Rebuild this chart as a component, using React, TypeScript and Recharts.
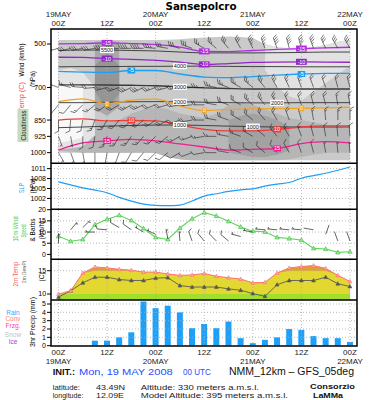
import React from "react";
import { ComposedChart, Line, Area, Bar, XAxis, YAxis, ReferenceLine } from "recharts";

// ---------- time axis ----------
const hours = [0, 3, 6, 9, 12, 15, 18, 21, 24, 27, 30, 33, 36, 39, 42, 45, 48, 51, 54, 57, 60, 63, 66, 69, 72];
const timeTicks = [0, 12, 24, 36, 48, 60, 72];
const hourLabels = ["00Z", "12Z", "00Z", "12Z", "00Z", "12Z", "00Z"];
const dateLabels = ["19MAY", "", "20MAY", "", "21MAY", "", "22MAY"];

// ---------- upper-air panel (pressure, hPa) ----------
const pressureTicks = [500, 700, 850, 925, 1000];
// isotherms, every 6 h
const isoM15 = [499, 498, 495, 498, 503, 514, 534, 535, 530, 525, 521, 518, 515];
const isoM10 = [561, 562, 567, 571, 575, 583, 594, 590, 585, 583, 582, 583, 584];
const isoM5 = [626, 629, 631, 622, 622, 638, 652, 655, 650, 643, 638, 635, 635];
const iso0 = [765, 753, 776, 758, 754, 785, 806, 801, 799, 797, 796, 794, 791];
const iso10 = [850, 845, 854, 852, 854, 873, 893, 900, 900, 893, 882, 877, 877];
const iso15 = [988, 955, 946, 939, 946, 960, 974, 988, 985, 981, 958, 949, 955];
// geopotential height lines, every 6 h
const h5500 = [530, 528, 528, 530, 532, 537, 541, 541, 541, 540, 539, 537, 537];
const h4000 = [605, 604, 604, 603, 603, 602, 602, 603, 604, 604, 605, 605, 605];
const h3000 = [688, 688, 689, 690, 692, 697, 702, 705, 707, 707, 707, 707, 707];
const h2000 = [770, 770, 768, 766, 765, 766, 768, 770, 771, 771, 770, 770, 770];
const h1000 = [885, 882, 878, 875, 873, 873, 875, 878, 880, 882, 882, 882, 882];

// cloudiness shading [top hPa, bottom hPa], every 3 h
const N = null;
const cloudBase = [[482, 1000], [482, 1000], [482, 1000], [482, 1000], [482, 1000], [482, 1000], [482, 1000], [482, 1000], [482, 1002], [480, 1020], [478, 1032], [474, 1035], [470, 1035], [468, 1035], [466, 1035], [468, 1035], [472, 1035], [500, 1035], [515, 1035], [520, 1035], [520, 1035], [515, 1035], [505, 1035], [490, 1035], [480, 1035]];
const cloudDarkLow = [[900, 990], [880, 995], [860, 1000], [850, 1000], [860, 1000], [850, 1000], [820, 1000], [800, 1000], [790, 1002], [800, 1020], [820, 1030], [830, 1035], [840, 1035], [820, 1035], [780, 1035], [770, 1035], [780, 1035], [800, 1035], [820, 1035], [840, 1030], [850, 1020], [860, 1010], [870, 1000], [880, 1000], [890, 1000]];
const cloudLightLeft = [[620, 985], [610, 980], [630, 970], [700, 920], N, N, N, N, N, N, N, N, N, N, N, N, N, N, N, N, N, N, N, N, N];
const cloudWhiteLeft = [[690, 955], [680, 945], [700, 930], N, N, N, N, N, N, N, N, N, N, N, N, N, N, N, N, N, N, N, N, N, N];
const cloudLightTopRight = [N, N, N, N, N, N, N, N, N, N, N, N, N, N, N, N, N, [500, 620], [515, 700], [520, 740], [520, 760], [515, 720], [505, 680], [490, 640], [480, 600]];
const cloudDarkStrip = [N, N, N, [490, 800], [485, 830], [490, 790], N, N, N, N, N, N, N, N, N, N, N, N, N, N, N, N, N, N, N];
const cloudDarkCore = [N, N, N, [600, 720], [540, 800], [600, 730], N, N, N, N, N, N, N, N, N, N, N, N, N, N, N, N, N, N, N];
const cloudDarkLow2 = [N, N, N, N, N, N, N, N, N, N, N, N, N, N, [850, 1000], [830, 1010], [820, 1020], [830, 1020], [850, 1010], [880, 990], N, N, N, N, N];

// upper-air wind barbs (direction deg, speed km/h), every 3 h
const dir520 = [255, 255, 260, 260, 265, 265, 270, 270, 275, 280, 285, 290, 300, 310, 320, 330, 335, 340, 340, 345, 345, 340, 335, 330, 330];
const spd520 = [55, 55, 60, 60, 65, 65, 70, 70, 65, 60, 55, 55, 50, 50, 55, 60, 65, 65, 70, 70, 70, 65, 60, 60, 55];
const dir700 = [290, 285, 275, 265, 255, 250, 245, 245, 250, 255, 260, 265, 270, 280, 290, 300, 310, 320, 330, 335, 340, 340, 340, 345, 345];
const spd700 = [30, 30, 35, 40, 45, 50, 55, 55, 50, 45, 45, 45, 45, 45, 45, 45, 50, 55, 55, 50, 45, 40, 40, 35, 35];
const dir780 = [220, 220, 225, 230, 235, 240, 240, 245, 250, 255, 260, 265, 270, 280, 290, 300, 310, 320, 330, 335, 340, 345, 345, 350, 350];
const spd780 = [20, 20, 25, 30, 35, 40, 45, 45, 40, 40, 40, 40, 40, 40, 40, 40, 45, 45, 45, 40, 40, 35, 35, 30, 30];
const dir850 = [180, 185, 190, 200, 210, 220, 225, 230, 235, 240, 250, 260, 270, 280, 290, 300, 310, 320, 330, 340, 345, 350, 355, 0, 0];
const spd850 = [15, 15, 20, 25, 30, 35, 40, 40, 35, 35, 35, 35, 35, 35, 35, 35, 40, 40, 40, 35, 35, 30, 30, 25, 25];
const dir925 = [160, 170, 180, 190, 200, 210, 215, 220, 225, 230, 240, 250, 260, 270, 280, 290, 300, 310, 320, 330, 340, 345, 350, 355, 355];
const spd925 = [10, 12, 15, 20, 25, 30, 30, 30, 28, 28, 28, 28, 28, 28, 28, 28, 30, 30, 30, 28, 25, 22, 20, 18, 18];
const dir1000 = [150, 160, 170, 180, 190, 200, 210, 220, 225, 230, 240, 250, 260, 270, 280, 290, 300, 310, 320, 330, 340, 345, 350, 355, 355];
const spd1000 = [8, 10, 12, 15, 18, 20, 22, 22, 20, 20, 20, 20, 20, 20, 20, 20, 22, 22, 22, 20, 18, 15, 12, 10, 10];
const barbLevels = [520, 700, 780, 850, 925, 1000];

// ---------- surface panels ----------
const slpTicks = [1002, 1005, 1008, 1011];
const slp = [1007.0, 1006.1, 1005.2, 1004.5, 1003.7, 1002.3, 1001.2, 1000.3, 999.9, 999.8, 1000.0, 1001.2, 1002.7, 1003.4, 1004.1, 1004.6, 1004.9, 1005.7, 1006.3, 1006.8, 1008.1, 1008.9, 1009.6, 1010.5, 1011.5];

const windTicks = [0, 5, 10, 15, 20];
const wind10 = [8.1, 5.9, 6.7, 13.3, 15.7, 17.5, 15.2, 11.6, 7.6, 6.7, 11.8, 16.0, 18.7, 17.2, 14.8, 12.3, 10.4, 10.1, 7.6, 7.1, 6.4, 2.7, 2.4, 0.9, 1.2];
const barb10Y = [5, 11, 12, 10, 11, 12, 11, 10, 9, 7, 6, 6, 6, 6, 6, 8, 10, 11, 11, 11, 11, 11, 9, 6, 6];
const barb10Dir = [0, 40, 45, 270, 275, 300, 305, 300, 295, 350, 355, 340, 320, 315, 310, 285, 280, 275, 275, 275, 275, 280, 20, 340, 340];

const tempTicks = [10, 15];
const temp2m = [10.0, 10.7, 14.5, 15.8, 15.6, 15.3, 15.1, 14.7, 14.7, 14.3, 14.0, 14.1, 14.4, 13.8, 13.5, 13.2, 12.4, 12.5, 14.5, 15.6, 15.9, 16.1, 15.5, 14.0, 12.7];
const dew2m = [9.35, 10.7, 12.4, 13.6, 13.6, 13.1, 12.9, 12.9, 13.4, 13.5, 11.8, 11.5, 11.5, 11.5, 11.1, 10.8, 10.1, 9.5, 12.0, 12.9, 12.9, 12.9, 13.6, 12.2, 11.6];

const precipTicks = [0, 1, 2, 3, 4, 5];
const rain3h = [0, 0, 0, 0.6, 0.6, 1.0, 1.6, 5.3, 4.5, 4.8, 4.0, 2.1, 2.6, 2.1, 2.9, 0.9, 0.3, 0.7, 1.0, 2.0, 1.9, 1.15, 0.9, 0.9, 0.45];

// ---------- layout ----------
const FONT = "'Liberation Sans', Arial, sans-serif";
const X_DOMAIN: [number, number] = [-1.85, 73.73];
const MARGIN = { top: 0, right: 15, bottom: 0, left: 0 };
const PAD_MARGIN = { top: 6, right: 15, bottom: 0, left: 0 };
const AXIS_W = 51;

const every6 = (arr: number[], i: number) => (i % 2 === 0 ? arr[i / 2] : null);

const upperRows = hours.map((t, i) => ({
  t,
  base: cloudBase[i],
  darkLow: cloudDarkLow[i],
  lightL: cloudLightLeft[i],
  whiteL: cloudWhiteLeft[i],
  lightTR: cloudLightTopRight[i],
  strip: cloudDarkStrip[i],
  core: cloudDarkCore[i],
  low2: cloudDarkLow2[i],
  m15: every6(isoM15, i),
  m10: every6(isoM10, i),
  m5: every6(isoM5, i),
  z0: every6(iso0, i),
  p10: every6(iso10, i),
  p15: every6(iso15, i),
  g5500: every6(h5500, i),
  g4000: every6(h4000, i),
  g3000: every6(h3000, i),
  g2000: every6(h2000, i),
  g1000: every6(h1000, i),
}));

const surfRows = hours.map((t, i) => ({
  t,
  slp: slp[i],
  wind: wind10[i],
  barbY: barb10Y[i],
  temp: temp2m[i],
  dew: dew2m[i],
  rain: rain3h[i],
}));

// ---------- renderers ----------
function barbGeom(cx: number, cy: number, dir: number, spdKmh: number, len: number) {
  const th = (dir * Math.PI) / 180;
  const ux = Math.sin(th), uy = -Math.cos(th);
  const px = Math.cos(th), py = Math.sin(th);
  const tx = cx + ux * len, ty = cy + uy * len;
  let kt = Math.round(spdKmh / 1.852 / 5) * 5;
  const f = (n: number) => n.toFixed(2);
  let d = `M${f(cx)},${f(cy)}L${f(tx)},${f(ty)}`;
  let flags = "";
  let pos = 0;
  const F = len * 0.42;
  const step = len * 0.2;
  while (kt >= 50) {
    const ax = tx - ux * pos, ay = ty - uy * pos;
    const bx = tx - ux * (pos + step * 1.4), by = ty - uy * (pos + step * 1.4);
    const qx = ax + px * F, qy = ay + py * F;
    flags += `M${f(ax)},${f(ay)}L${f(qx)},${f(qy)}L${f(bx)},${f(by)}Z`;
    pos += step * 1.8;
    kt -= 50;
  }
  while (kt >= 10) {
    const ax = tx - ux * pos, ay = ty - uy * pos;
    d += `M${f(ax)},${f(ay)}L${f(ax + F * (px * 0.87 + ux * 0.5))},${f(ay + F * (py * 0.87 + uy * 0.5))}`;
    pos += step;
    kt -= 10;
  }
  if (kt >= 5) {
    if (pos === 0) pos = step;
    const ax = tx - ux * pos, ay = ty - uy * pos;
    const H = F * 0.55;
    d += `M${f(ax)},${f(ay)}L${f(ax + H * (px * 0.87 + ux * 0.5))},${f(ay + H * (py * 0.87 + uy * 0.5))}`;
  }
  return { d, flags };
}

const barbDot = (dirs: number[], spds: number[], len: number, sw = 0.6) => (props: any) => {
  const { cx, cy, index } = props;
  if (cx == null || cy == null || isNaN(cx) || isNaN(cy)) return <g key={`b${index}`} />;
  const { d, flags } = barbGeom(cx, cy, dirs[index], spds[index], len);
  return (
    <g key={`b${index}`}>
      <path d={d} stroke="#222" strokeWidth={sw} fill="none" />
      {flags ? <path d={flags} fill="#222" stroke="#222" strokeWidth={0.3} /> : null}
    </g>
  );
};

const labelDot = (idx: number[], text: string, bg: string, fg: string, fs = 5.5) => (props: any) => {
  const { cx, cy, index } = props;
  if (cx == null || cy == null || !idx.includes(index)) return <g key={`l${index}`} />;
  const w = text.length * fs * 0.56 + 1.5;
  return (
    <g key={`l${index}`}>
      <rect x={cx - w / 2} y={cy - fs * 0.55} width={w} height={fs * 1.1} fill={bg} />
      <text x={cx} y={cy + fs * 0.36} fontSize={fs} fontFamily={FONT} textAnchor="middle" fill={fg}>{text}</text>
    </g>
  );
};

const triDot = (fill: string, stroke: string, s = 2.3) => (props: any) => {
  const { cx, cy, index } = props;
  if (cx == null || cy == null) return <g key={`t${index}`} />;
  return (
    <path
      key={`t${index}`}
      d={`M${cx},${cy - s}L${cx + s * 0.95},${cy + s * 0.7}L${cx - s * 0.95},${cy + s * 0.7}Z`}
      fill={fill}
      stroke={stroke}
      strokeWidth={0.6}
    />
  );
};

const TopTick = (props: any) => {
  const { x, y, payload } = props;
  const i = timeTicks.indexOf(payload.value);
  return (
    <g>
      {dateLabels[i] ? (
        <text x={x} y={y - 9.5} textAnchor="middle" fontSize={8} fontFamily={FONT} fill="#222">{dateLabels[i]}</text>
      ) : null}
      <text x={x} y={y - 1} textAnchor="middle" fontSize={8} fontFamily={FONT} fill="#222">{hourLabels[i]}</text>
    </g>
  );
};

const BottomTick = (props: any) => {
  const { x, y, payload } = props;
  const i = timeTicks.indexOf(payload.value);
  return (
    <g>
      <text x={x} y={y + 7} textAnchor="middle" fontSize={8} fontFamily={FONT} fill="#222">{hourLabels[i]}</text>
      {dateLabels[i] ? (
        <text x={x} y={y + 16} textAnchor="middle" fontSize={8} fontFamily={FONT} fill="#222">{dateLabels[i]}</text>
      ) : null}
    </g>
  );
};

const yTick = { fontSize: 7, fill: "#000", fontFamily: FONT };

const vGrid = (prefix: string) =>
  timeTicks.map((t) => (
    <ReferenceLine key={`${prefix}v${t}`} x={t} stroke="#a8a8a8" strokeDasharray="1 2" strokeWidth={0.8} />
  ));
const hGrid = (prefix: string, vals: number[]) =>
  vals.map((v) => (
    <ReferenceLine key={`${prefix}h${v}`} y={v} stroke="#a8a8a8" strokeDasharray="1 2" strokeWidth={0.8} />
  ));

const hiddenX = (
  <XAxis type="number" dataKey="t" domain={X_DOMAIN} allowDataOverflow hide ticks={timeTicks} />
);

const rot = (x: number, y: number, children: React.ReactNode, len: number, fs = 6.5, fill = "#000") => (
  <text
    transform={`translate(${x},${y}) rotate(-90)`}
    textAnchor="middle"
    fontSize={fs}
    fontFamily={FONT}
    fill={fill}
    textLength={len}
    lengthAdjust="spacingAndGlyphs"
  >
    {children}
  </text>
);

export default function App() {
  const isoLine = (key: string, color: string, w = 1.3) => (
    <Line key={key} dataKey={key} stroke={color} strokeWidth={w} dot={false} connectNulls type="monotone" isAnimationActive={false} />
  );
  const hLine = (key: string, w = 0.9, color = "#333") => (
    <Line key={key} dataKey={key} stroke={color} strokeWidth={w} dot={false} connectNulls type="monotone" isAnimationActive={false} />
  );
  const labLine = (key: string, idx: number[], text: string, bg: string, fg: string) => (
    <Line key={`lab-${key}`} dataKey={key} stroke="none" dot={labelDot(idx, text, bg, fg)} connectNulls isAnimationActive={false} />
  );
  const cloudArea = (key: string, color: string) => (
    <Area key={key} dataKey={key} stroke="none" fill={color} fillOpacity={1} isAnimationActive={false} />
  );
  const barbSets = [
    [dir520, spd520],
    [dir700, spd700],
    [dir780, spd780],
    [dir850, spd850],
    [dir925, spd925],
    [dir1000, spd1000],
  ];

  return (
    <div style={{ position: "absolute", left: 0, top: 0, width: 372, height: 400, background: "#fff", overflow: "hidden" }}>
      {/* Upper-air panel */}
      <div style={{ position: "absolute", left: 0, top: 0 }}>
        <ComposedChart width={372} height={163.3} data={upperRows} margin={MARGIN}>
          <XAxis
            type="number"
            dataKey="t"
            domain={X_DOMAIN}
            allowDataOverflow
            orientation="top"
            height={29}
            ticks={timeTicks}
            interval={0}
            tick={TopTick}
            tickLine={false}
            tickSize={2}
            tickMargin={0}
            axisLine={false}
          />
          <YAxis
            type="number"
            domain={[431, 1049]}
            reversed
            allowDataOverflow
            ticks={pressureTicks}
            interval={0}
            width={AXIS_W}
            tick={yTick}
            tickSize={4}
            tickMargin={1}
            tickLine={{ stroke: "#000" }}
            axisLine={false}
          />
          {cloudArea("base", "#cacaca")}
          {cloudArea("darkLow", "#b6b6b6")}
          {cloudArea("low2", "#a2a2a2")}
          {cloudArea("lightL", "#e4e4e4")}
          {cloudArea("whiteL", "#f8f8f8")}
          {cloudArea("lightTR", "#e2e2e2")}
          {cloudArea("strip", "#a8a8a8")}
          {cloudArea("core", "#959595")}
          {vGrid("u")}
          {hLine("g5500")}
          {hLine("g4000")}
          {hLine("g3000", 1.4, "#3a3a3a")}
          {hLine("g2000")}
          {hLine("g1000")}
          {isoLine("m15", "#b02ee0")}
          {isoLine("m10", "#9424c8")}
          {isoLine("m5", "#1ea0f0")}
          {isoLine("z0", "#f0a428")}
          {isoLine("p10", "#f23a3a")}
          {isoLine("p15", "#f0208e")}
          {barbLevels.map((lev, k) => (
            <Line
              key={`barb${lev}`}
              dataKey={() => lev}
              stroke="none"
              dot={barbDot(barbSets[k][0], barbSets[k][1], 11)}
              isAnimationActive={false}
            />
          ))}
          {labLine("g5500", [4], "5500", "#fff", "#111")}
          {labLine("g4000", [10], "4000", "#fff", "#111")}
          {labLine("g3000", [10], "3000", "#fff", "#111")}
          {labLine("g2000", [10, 18], "2000", "#fff", "#111")}
          {labLine("g1000", [10, 16], "1000", "#fff", "#111")}
          {labLine("m15", [4, 12, 20], "-15", "#b02ee0", "#fff")}
          {labLine("m10", [4, 12, 20], "-10", "#9424c8", "#fff")}
          {labLine("m5", [6, 20], "-5", "#1ea0f0", "#fff")}
          {labLine("z0", [4, 12, 20], "0", "#f0a428", "#fff")}
          {labLine("p10", [6, 18], "10", "#f23a3a", "#fff")}
          {labLine("p15", [4, 18], "15", "#f0208e", "#fff")}
        </ComposedChart>
      </div>

      {/* SLP panel */}
      <div style={{ position: "absolute", left: 0, top: 163.3 }}>
        <ComposedChart width={372} height={46} data={surfRows} margin={MARGIN}>
          {hiddenX}
          <YAxis type="number" domain={[998.8, 1012.7]} allowDataOverflow ticks={slpTicks} interval={0} width={AXIS_W} tick={yTick} tickSize={4} tickMargin={1} tickLine={{ stroke: "#000" }} axisLine={false} />
          {vGrid("s")}
          {hGrid("s", slpTicks)}
          <Line dataKey="slp" stroke="#1f9cf5" strokeWidth={1.2} dot={false} type="monotone" isAnimationActive={false} />
        </ComposedChart>
      </div>

      {/* 10m wind panel (extra top margin keeps the "20" tick label visible) */}
      <div style={{ position: "absolute", left: 0, top: 203.3 }}>
        <ComposedChart width={372} height={56} data={surfRows} margin={PAD_MARGIN}>
          {hiddenX}
          <YAxis type="number" domain={[-2.06, 20.31]} allowDataOverflow ticks={windTicks} interval={0} width={AXIS_W} tick={yTick} tickSize={4} tickMargin={1} tickLine={{ stroke: "#000" }} axisLine={false} />
          {vGrid("w")}
          {hGrid("w", [5, 10, 15])}
          <Line dataKey="wind" stroke="#5cd65c" strokeWidth={1.1} dot={triDot("#9be89b", "#3cb83c")} type="linear" isAnimationActive={false} />
          <Line dataKey="barbY" stroke="none" dot={barbDot(barb10Dir, wind10, 10, 0.7)} isAnimationActive={false} />
        </ComposedChart>
      </div>

      {/* 2m temperature panel */}
      <div style={{ position: "absolute", left: 0, top: 259.3 }}>
        <ComposedChart width={372} height={40.7} data={surfRows} margin={MARGIN}>
          {hiddenX}
          <YAxis type="number" domain={[8.78, 17.51]} allowDataOverflow ticks={tempTicks} interval={0} width={AXIS_W} tick={yTick} tickSize={4} tickMargin={1} tickLine={{ stroke: "#000" }} axisLine={false} />
          <Area dataKey="temp" baseValue="dataMin" stroke="none" fill="#e0a02e" fillOpacity={1} type="linear" isAnimationActive={false} />
          <Area dataKey={(d: any) => Math.min(d.temp, 15)} baseValue="dataMin" stroke="none" fill="#e2d831" fillOpacity={1} type="linear" isAnimationActive={false} />
          <Area dataKey={(d: any) => Math.min(d.temp, 10)} baseValue="dataMin" stroke="none" fill="#a2de2c" fillOpacity={1} type="linear" isAnimationActive={false} />
          {vGrid("T")}
          {hGrid("T", [15])}
          <Line dataKey="dew" stroke="#5a5a5a" strokeWidth={0.9} dot={triDot("#555", "#555", 2)} type="linear" isAnimationActive={false} />
          <Line dataKey="temp" stroke="#ff7474" strokeWidth={1} dot={triDot("#ffb0b0", "#ff6a6a", 2)} type="linear" isAnimationActive={false} />
        </ComposedChart>
      </div>

      {/* precipitation panel */}
      <div style={{ position: "absolute", left: 0, top: 300 }}>
        <ComposedChart width={372} height={66} data={surfRows} margin={MARGIN}>
          <XAxis
            type="number"
            dataKey="t"
            domain={X_DOMAIN}
            allowDataOverflow
            height={20}
            ticks={timeTicks}
            interval={0}
            tick={BottomTick}
            tickLine={false}
            tickSize={2}
            tickMargin={0}
            axisLine={false}
          />
          <YAxis type="number" domain={[-0.04, 5.48]} allowDataOverflow ticks={precipTicks} interval={0} width={AXIS_W} tick={yTick} tickSize={4} tickMargin={1} tickLine={{ stroke: "#000" }} axisLine={false} />
          {vGrid("p")}
          {hGrid("p", [1, 2, 3, 4, 5])}
          <Bar dataKey="rain" fill="#1ea0f8" barSize={6} isAnimationActive={false} />
        </ComposedChart>
      </div>

      {/* frames and text */}
      <svg width={372} height={400} style={{ position: "absolute", left: 0, top: 0, pointerEvents: "none" }}>
        <rect x={51} y={29} width={306} height={317} fill="none" stroke="#000" strokeWidth={1.5} />
        {[163.3, 209.3, 259.3, 300].map((y) => (
          <line key={y} x1={51} x2={357} y1={y} y2={y} stroke="#000" strokeWidth={1.5} />
        ))}

        <text x={201} y={9.5} textAnchor="middle" fontSize={10} fontWeight="bold" fontFamily="'DejaVu Sans', sans-serif" textLength={71} lengthAdjust="spacingAndGlyphs">Sansepolcro</text>

        {/* upper-air labels */}
        {rot(23.5, 60, "Wind (km/h)", 33)}
        {rot(23.5, 97, "Temp (C)", 30, 6.5, "#ff4d4d")}
        {rot(35, 79, "(hPa)", 16)}
        <rect x={17.5} y={109} width={11} height={33} fill="#c6dbc0" />
        {rot(25.5, 125.5, "Cloudiness", 30, 6.5, "#2a2a2a")}

        {/* SLP */}
        {rot(23.5, 188, "SLP", 10, 6.5, "#2aa0f0")}
        {rot(35, 186, "(hPa)", 15)}

        {/* wind */}
        {rot(18, 229, "10m Wind", 25, 6.5, "#3cc83c")}
        {rot(25.5, 231, "Speed", 13, 6.5, "#3cc83c")}
        {rot(34.5, 230, "& Barbs", 23)}
        {rot(43.5, 230, "(km/h)", 19)}

        {/* temperature */}
        {rot(18, 274, "2m Temp", 25, 6.5, "#ff6060")}
        {rot(25.5, 272, "2m DewPt", 22, 5.5, "#666")}
        {rot(44, 277, "(C)", 9)}

        {/* precipitation */}
        {rot(35, 322, "3hr Precip (mm)", 50)}
        <text x={13} y={314.5} textAnchor="middle" fontSize={6.5} fontFamily={FONT} fill="#3aa8ff">Rain</text>
        <text x={13} y={321.2} textAnchor="middle" fontSize={6.5} fontFamily={FONT} fill="#ff8070">Conv</text>
        <text x={13} y={328.2} textAnchor="middle" fontSize={6.5} fontFamily={FONT} fill="#ff3cb4">Frzg.</text>
        <text x={13} y={336.5} textAnchor="middle" fontSize={6.5} fontFamily={FONT} fill="#c0c0c0">Snow</text>
        <text x={13} y={344} textAnchor="middle" fontSize={6.5} fontFamily={FONT} fill="#b038e8">Ice</text>

        {/* footer */}
        <text x={52.7} y={375} fontSize={9} fontWeight="bold" fontFamily={FONT} fill="#111" textLength={22.3} lengthAdjust="spacingAndGlyphs">INIT.:</text>
        <text x={79} y={375} fontSize={9} fontFamily={FONT} fill="#2a4dff" textLength={93.7} lengthAdjust="spacingAndGlyphs">Mon, 19 MAY 2008</text>
        <text x={183} y={375} fontSize={9} fontFamily={FONT} fill="#2a4dff" textLength={27.7} lengthAdjust="spacingAndGlyphs">00 UTC</text>
        <text x={229} y={375} fontSize={10} fontFamily={FONT} fill="#111" textLength={125} lengthAdjust="spacingAndGlyphs">NMM_12km – GFS_05deg</text>

        <text x={52.7} y={389.5} fontSize={7} fontFamily={FONT} fill="#222" textLength={27.3} lengthAdjust="spacingAndGlyphs">latitude:</text>
        <text x={96} y={389.5} fontSize={7} fontFamily={FONT} fill="#222" textLength={29} lengthAdjust="spacingAndGlyphs">43.49N</text>
        <text x={140.7} y={389.5} fontSize={7} fontFamily={FONT} fill="#222" textLength={118.3} lengthAdjust="spacingAndGlyphs">Altitude: 330 meters a.m.s.l.</text>
        <text x={310} y={389} fontSize={7.5} fontWeight="bold" fontFamily={FONT} fill="#111" textLength={45} lengthAdjust="spacingAndGlyphs">Consorzio</text>

        <text x={52.7} y={397.8} fontSize={7} fontFamily={FONT} fill="#222" textLength={30.7} lengthAdjust="spacingAndGlyphs">longitude:</text>
        <text x={96} y={397.8} fontSize={7} fontFamily={FONT} fill="#222" textLength={28} lengthAdjust="spacingAndGlyphs">12.09E</text>
        <text x={140.7} y={397.8} fontSize={7} fontFamily={FONT} fill="#222" textLength={147.3} lengthAdjust="spacingAndGlyphs">Model Altitude: 395 meters a.m.s.l.</text>
        <text x={313} y={398} fontSize={7.5} fontWeight="bold" fontFamily={FONT} fill="#111" textLength={30} lengthAdjust="spacingAndGlyphs">LaMMa</text>
      </svg>
    </div>
  );
}
